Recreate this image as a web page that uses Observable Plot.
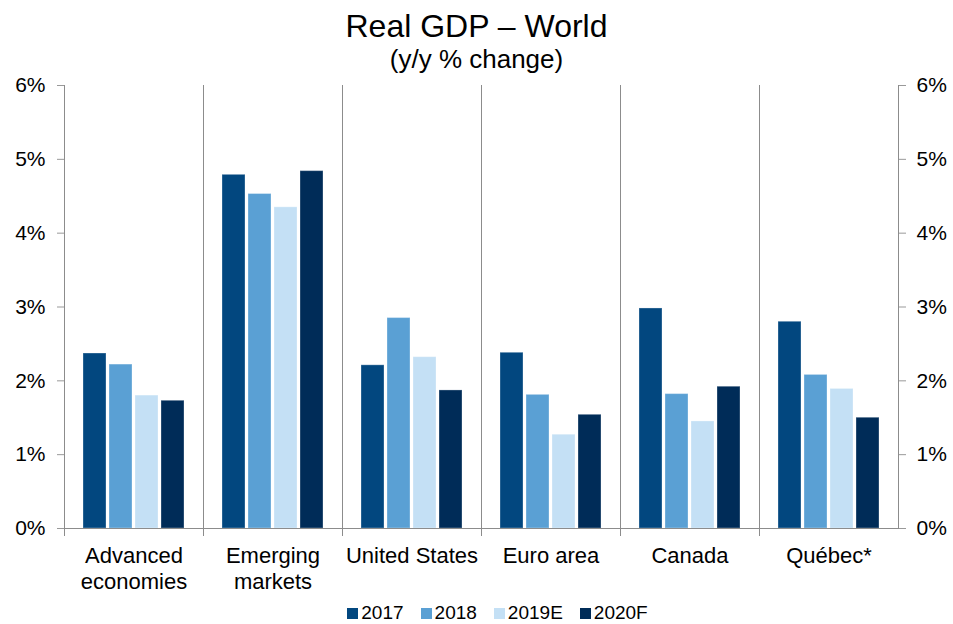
<!DOCTYPE html>
<html>
<head>
<meta charset="utf-8">
<script src="https://cdn.jsdelivr.net/npm/d3@7"></script>
<script src="https://cdn.jsdelivr.net/npm/@observablehq/plot@0.6"></script>
<style>
  html, body { margin: 0; padding: 0; background: white; }
  body { font-family: "Liberation Sans", Arial, sans-serif; color: #000; }
  #wrap { position: relative; width: 953px; height: 624px; overflow: hidden; }
  #title { position: absolute; left: 0; width: 953px; top: 9px; text-align: center; font-size: 32px; line-height: 34px; }
  #subtitle { position: absolute; left: 0; width: 953px; top: 46px; text-align: center; font-size: 26px; line-height: 26px; }
  #chart { position: absolute; left: 0; top: 75px; }
  #legend { position: absolute; left: 21px; width: 953px; top: 600px; height: 26px; display: flex; justify-content: center; align-items: center; font-size: 19px; line-height: 26px; }
  .item { display: flex; align-items: center; margin: 0 8.5px; }
  .sw { width: 11px; height: 11px; margin-right: 3px; }
</style>
</head>
<body>
<div id="wrap">
  <div id="title">Real GDP – World</div>
  <div id="subtitle">(y/y % change)</div>
  <div id="chart"></div>
  <div id="legend"></div>
</div>
<script>
const groups = ["Advanced\neconomies", "Emerging\nmarkets", "United States", "Euro area", "Canada", "Québec*"];
const years = ["2017", "2018", "2019E", "2020F"];
const v2017  = [2.37, 4.79, 2.21, 2.38, 2.98, 2.80];
const v2018  = [2.22, 4.53, 2.85, 1.81, 1.82, 2.08];
const v2019E = [1.80, 4.35, 2.32, 1.27, 1.45, 1.89];
const v2020F = [1.73, 4.84, 1.87, 1.54, 1.92, 1.50];
const colors = ["#02477f", "#5aa0d4", "#c4e0f5", "#002c58"];
const yTicks = [0, 1, 2, 3, 4, 5, 6];

const series = [v2017, v2018, v2019E, v2020F];
const data = [];
groups.forEach((g, gi) => {
  years.forEach((y, yi) => data.push({group: g, year: y, value: series[yi][gi]}));
});

const chart = Plot.plot({
  width: 953,
  height: 523,
  marginTop: 10,
  marginBottom: 70,
  marginLeft: 64,
  marginRight: 55,
  style: {fontFamily: "'Liberation Sans', Arial, sans-serif", fontSize: "21px", color: "#000", overflow: "visible"},
  fx: {domain: groups, padding: 0, label: null},
  x: {domain: years, paddingInner: 0.1, paddingOuter: 0.67, axis: null},
  y: {domain: [0, 6], label: null},
  color: {domain: years, range: colors},
  marks: [
    Plot.frame({anchor: "left", stroke: "#8c8c8c", insetBottom: -7}),
    Plot.frame({anchor: "right", stroke: "#8c8c8c"}),
    Plot.barY(data, {fx: "group", x: "year", y: "value", fill: "year", stroke: "white", strokeOpacity: 0.3, strokeWidth: 1}),
    Plot.ruleY([0], {stroke: "#8c8c8c"}),
    Plot.axisY({anchor: "left", ticks: yTicks, tickFormat: d => d + "%", tickSize: 7, tickPadding: 12, stroke: "#999", fill: "#000", fontSize: 21, label: null}),
    Plot.axisY({anchor: "right", ticks: yTicks, tickFormat: d => d + "%", tickSize: 7, tickPadding: 11, stroke: "#999", fill: "#000", fontSize: 21, label: null}),
    Plot.axisFx({anchor: "bottom", tickSize: 0, tickPadding: 16, fontSize: 22, lineHeight: 1.18, fill: "#000", label: null})
  ]
});
document.getElementById("chart").appendChild(chart);

const legend = document.getElementById("legend");
years.forEach((y, i) => {
  const it = document.createElement("div");
  it.className = "item";
  const sw = document.createElement("div");
  sw.className = "sw";
  sw.style.background = colors[i];
  const t = document.createElement("span");
  t.textContent = y;
  it.appendChild(sw); it.appendChild(t);
  legend.appendChild(it);
});
</script>
</body>
</html>
